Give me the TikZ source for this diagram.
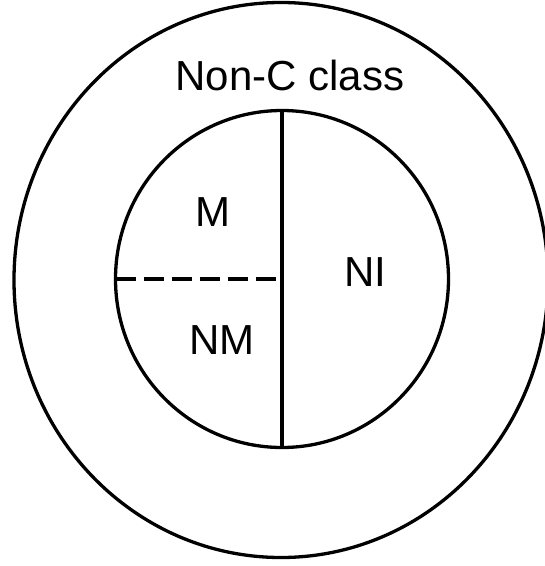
\documentclass[tikz,border=0pt]{standalone}
\usepackage{fontspec}
\setmainfont{Liberation Sans}
\usepackage{tikz}
\usetikzlibrary{positioning,shapes.geometric}
\tikzset{ring/.style={draw,ellipse,line width=3.3pt,inner sep=0pt,outer sep=0pt},
  divider/.style={line width=3.3pt},
  label/.style={font=\fontsize{42}{50}\selectfont,inner sep=0pt}}
\begin{document}
\begin{tikzpicture}[x=1pt,y=-1pt]
\useasboundingbox (0,0) rectangle (545,566);
\node[ring,minimum width=534pt,minimum height=555pt] (outer) at (281,280) {};
\node[ring,minimum width=333pt,minimum height=337pt] (inner) at (282,279) {};
\draw[divider] (inner.north)--(inner.south);
\draw[divider,dash pattern=on 20pt off 8pt] (inner.west)--(inner.center);
\node[label] (nonc) at (290,75) {Non-C class};
\node[label] (m) at (213,212) {M};
\node[label] (nm) at (222,340) {NM};
\node[label] (ni) at (365,272) {NI};
\end{tikzpicture}
\end{document}
